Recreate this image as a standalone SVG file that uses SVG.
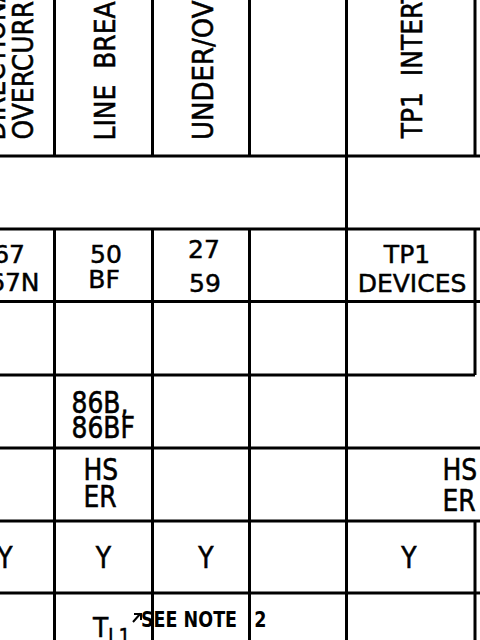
<svg xmlns="http://www.w3.org/2000/svg" width="480" height="640" viewBox="0 0 480 640">
<style>
.ln{stroke:#000;stroke-width:3;fill:none}
.t{font-family:"DejaVu Sans","Liberation Sans",sans-serif;font-size:25px;fill:#000;stroke:#000;stroke-width:0.5;white-space:pre}
.c{text-anchor:middle}
.e{text-anchor:end}
.n{font-family:"DejaVu Sans","Liberation Sans",sans-serif;font-size:17px;font-weight:bold;fill:#000;white-space:pre}
.s{font-family:"DejaVu Sans","Liberation Sans",sans-serif;font-size:19px;fill:#000;stroke:#000;stroke-width:0.4}
</style>
<rect width="480" height="640" fill="#fff"/>
<g id="grid" class="ln">
<path d="M0 156H480M0 229H480M0 301.5H480M0 375H475M0 448H480M0 521H480M0 593H480"/>
<path d="M54.5 0V156M54.5 229V640M152.5 0V156M152.5 229V640M249.5 0V156M249.5 229V640M346.5 0V640M475 0V156M475 229V375M475 521V640"/>
</g>
<g id="headers">
<text class="t" transform="translate(5,140.5) rotate(-90) scale(1,1.15)">DIRECTIONAL</text>
<text class="t" transform="translate(33,139.5) rotate(-90) scale(1,1.15)">OVERCURRENT</text>
<text class="t" transform="translate(115,140.5) rotate(-90) scale(1,1.15)">LINE  BREAKER</text>
<text class="t" transform="translate(213,140) rotate(-90) scale(1.04,1.15)">UNDER/OVERVOLTAGE</text>
<text class="t" transform="translate(422,138.3) rotate(-90) scale(1,1.15)">TP1  INTERTRIP</text>
</g>
<g id="devices">
<text class="t e" x="25" y="263">67</text>
<text class="t e" x="39.5" y="291">67N</text>
<text class="t c" x="106" y="263">50</text>
<text class="t c" x="104" y="288">BF</text>
<text class="t c" x="204" y="258">27</text>
<text class="t c" x="205" y="292">59</text>
<text class="t c" x="407" y="263">TP1</text>
<text class="t c" x="412" y="292">DEVICES</text>
</g>
<g id="lockout">
<text class="t" transform="translate(71.5,413) scale(1,1.19)">86B,</text>
<text class="t" transform="translate(71.5,438) scale(1,1.19)">86BF</text>
</g>
<g id="switch">
<text class="t" transform="translate(83.5,480) scale(1,1.19)">HS</text>
<text class="t" transform="translate(83.5,507) scale(1,1.19)">ER</text>
<text class="t" transform="translate(442.5,480) scale(1,1.19)">HS</text>
<text class="t" transform="translate(442.5,511) scale(1,1.19)">ER</text>
</g>
<g id="yes">
<text class="t c" transform="translate(5,568) scale(1,1.19)">Y</text>
<text class="t c" transform="translate(103.5,568) scale(1,1.19)">Y</text>
<text class="t c" transform="translate(206,568) scale(1,1.19)">Y</text>
<text class="t c" transform="translate(409,568) scale(1,1.19)">Y</text>
</g>
<g id="note">
<text class="t" transform="translate(93,637) scale(1,1.05)">T</text>
<text class="s" transform="translate(108,645) scale(1,1.2)">L1</text>
<path class="ln" style="stroke-width:2" d="M133 622L140.5 613.5M134 614H141V620"/>
<text class="n" transform="translate(141,627) scale(1.03,1.2)">SEE NOTE<tspan x="110">2</tspan></text>
</g>
</svg>
